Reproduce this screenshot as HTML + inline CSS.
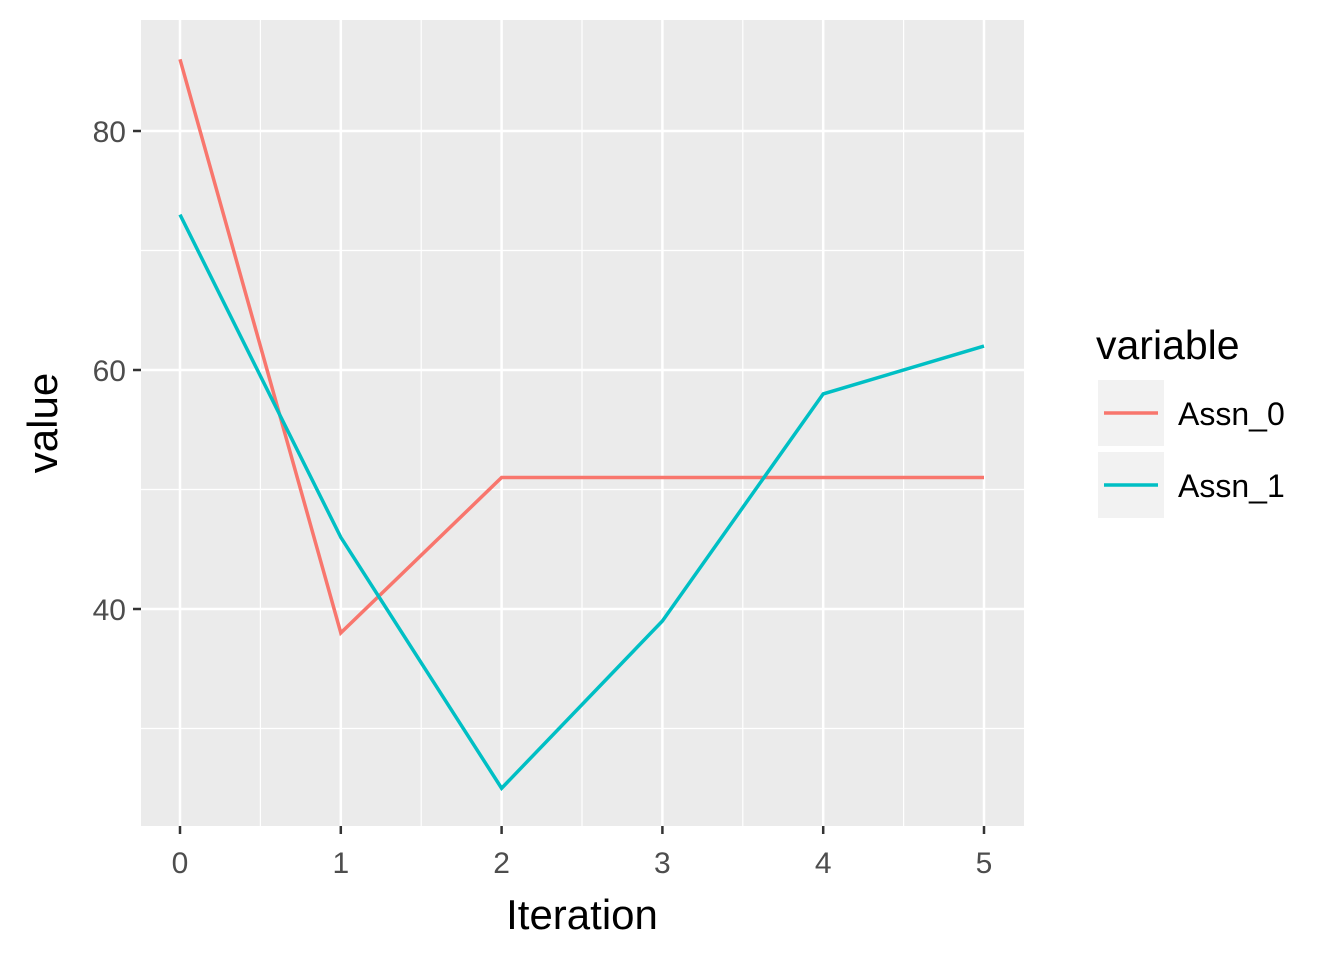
<!DOCTYPE html>
<html><head><meta charset="utf-8"><style>
html,body{margin:0;padding:0;background:#fff;}
svg{display:block;font-family:"Liberation Sans",Arial,sans-serif;}
</style></head><body>
<svg id="chart" width="1343" height="953">
<rect x="141" y="20" width="883" height="806" fill="#ebebeb"/>
<g id="grid"></g>
<g id="series"></g>
<g id="axes"></g>
<text x="582" y="929" font-size="42" text-anchor="middle" fill="#000">Iteration</text>
<text transform="translate(57,423) rotate(-90)" font-size="42" text-anchor="middle" fill="#000">value</text>
<g>
<text x="1096" y="359" font-size="41" fill="#000">variable</text>
<g>
<rect x="1098" y="380" width="66" height="66" fill="#f2f2f2"/>
<line x1="1104" x2="1158" y1="413" y2="413" stroke="#F8766D" stroke-width="3.5"/>
<text x="1178" y="425" font-size="32" fill="#000">Assn_0</text></g>
<g>
<rect x="1098" y="452" width="66" height="66" fill="#f2f2f2"/>
<line x1="1104" x2="1158" y1="485" y2="485" stroke="#00BFC4" stroke-width="3.5"/>
<text x="1178" y="497" font-size="32" fill="#000">Assn_1</text></g>
</g>
</svg>
<script>
const iterations=[0,1,2,3,4,5];
const assn0=[86,38,51,51,51,51];
const assn1=[73,46,25,39,58,62];
const xTicks=[0,1,2,3,4,5];
const yTicks=[40,60,80];
const yMinor=[30,50,70];
const NS="http://www.w3.org/2000/svg";
function xs(v){return 180+v*160.8;}
function ys(v){return 370-(v-60)*11.95;}
function mk(tag,attrs,parent){const e=document.createElementNS(NS,tag);for(const k in attrs)e.setAttribute(k,attrs[k]);parent.appendChild(e);return e;}
const grid=document.getElementById('grid'),axes=document.getElementById('axes'),ser=document.getElementById('series');
yMinor.forEach(v=>{const l=mk('line',{x1:141,x2:1024,y1:ys(v),y2:ys(v),stroke:'#fff','stroke-width':1.2},grid);

});
xTicks.slice(0,-1).forEach(v=>{const l=mk('line',{x1:xs(v+0.5),x2:xs(v+0.5),y1:20,y2:826,stroke:'#fff','stroke-width':1.2},grid);

});
yTicks.forEach(v=>{const l=mk('line',{x1:141,x2:1024,y1:ys(v),y2:ys(v),stroke:'#fff','stroke-width':2.5},grid);


const t=mk('line',{x1:133,x2:141,y1:ys(v),y2:ys(v),stroke:'#333','stroke-width':2.5},axes);


const tx=mk('text',{x:126,y:ys(v)+11,'font-size':30,'text-anchor':'end',fill:'#4d4d4d'},axes);tx.textContent=v;

});
xTicks.forEach(v=>{const l=mk('line',{x1:xs(v),x2:xs(v),y1:20,y2:826,stroke:'#fff','stroke-width':2.5},grid);


const t=mk('line',{x1:xs(v),x2:xs(v),y1:826,y2:834,stroke:'#333','stroke-width':2.5},axes);


const tx=mk('text',{x:xs(v),y:873,'font-size':30,'text-anchor':'middle',fill:'#4d4d4d'},axes);tx.textContent=v;

});
[[assn0,'#F8766D','line-assn-0'],[assn1,'#00BFC4','line-assn-1']].forEach(([d,c,n])=>{
const p=mk('polyline',{points:d.map((v,i)=>xs(iterations[i])+','+ys(v)).join(' '),fill:'none',stroke:c,'stroke-width':3.5},ser);

});
</script>
</body></html>
